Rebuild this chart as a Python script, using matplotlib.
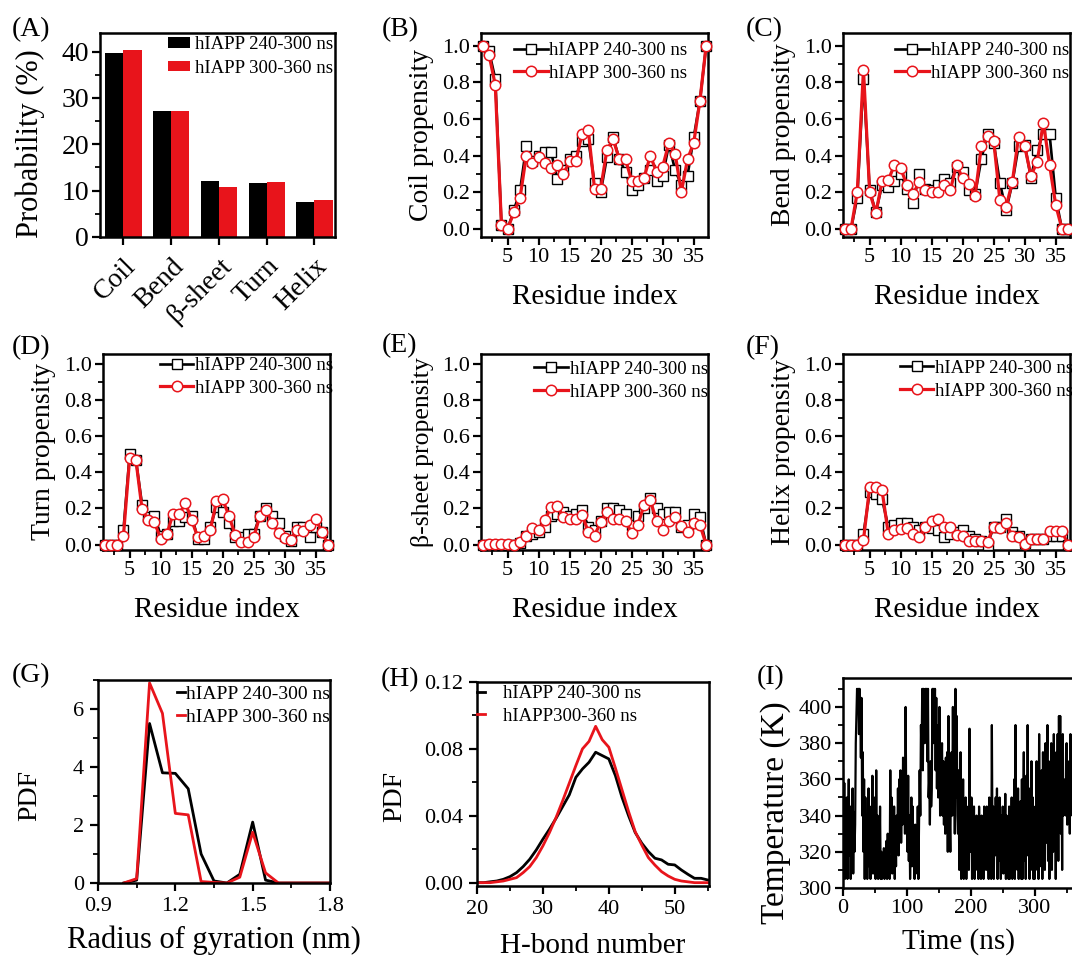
import numpy as np
import matplotlib
matplotlib.use('Agg')
import matplotlib.pyplot as plt
from matplotlib.ticker import MultipleLocator, FormatStrFormatter

plt.rcParams['font.family'] = ['Liberation Serif', 'DejaVu Serif']

BLACK = 'black'
RED = '#E8141B'
LAB1 = 'hIAPP 240-300 ns'
LAB2 = 'hIAPP 300-360 ns'

# ---- (A) secondary structure probability ----
ss_names = ['Coil', 'Bend', 'β-sheet', 'Turn', 'Helix']
ss_240 = [39.7, 27.2, 12.1, 11.6, 7.6]
ss_300 = [40.3, 27.1, 10.8, 11.9, 7.9]

# ---- (B)-(F) per-residue propensities ----
residues = np.arange(1, 38)
coil_240 = [1.0, 0.97, 0.82, 0.02, 0.0, 0.10, 0.21, 0.45, 0.37, 0.40, 0.42, 0.42, 0.27, 0.32, 0.38,
            0.40, 0.48, 0.49, 0.25, 0.20, 0.39, 0.50, 0.38, 0.31, 0.21, 0.24, 0.28, 0.32, 0.26, 0.29,
            0.46, 0.32, 0.24, 0.29, 0.50, 0.70, 1.0]
coil_300 = [1.0, 0.95, 0.786, 0.02, 0.0, 0.09, 0.17, 0.40, 0.36, 0.39, 0.36, 0.33, 0.35, 0.30, 0.37,
            0.37, 0.52, 0.54, 0.22, 0.22, 0.43, 0.49, 0.38, 0.38, 0.26, 0.26, 0.28, 0.40, 0.31, 0.34,
            0.47, 0.41, 0.20, 0.38, 0.47, 0.70, 1.0]
bend_240 = [0.0, 0.0, 0.17, 0.82, 0.21, 0.09, 0.24, 0.23, 0.26, 0.30, 0.22, 0.14, 0.30, 0.22, 0.21,
            0.24, 0.27, 0.25, 0.34, 0.31, 0.21, 0.19, 0.38, 0.52, 0.47, 0.25, 0.10, 0.25, 0.45, 0.46,
            0.28, 0.43, 0.52, 0.52, 0.17, 0.0, 0.0]
bend_300 = [0.0, 0.0, 0.20, 0.87, 0.20, 0.086, 0.26, 0.265, 0.35, 0.33, 0.24, 0.19, 0.255, 0.21, 0.20,
            0.20, 0.24, 0.21, 0.35, 0.275, 0.245, 0.18, 0.45, 0.505, 0.48, 0.155, 0.12, 0.255, 0.50, 0.45,
            0.29, 0.365, 0.58, 0.35, 0.13, 0.0, 0.0]
turn_240 = [0.0, 0.0, 0.0, 0.08, 0.50, 0.47, 0.22, 0.15, 0.16, 0.05, 0.06, 0.13, 0.13, 0.15, 0.16,
            0.03, 0.03, 0.10, 0.21, 0.18, 0.12, 0.04, 0.04, 0.06, 0.06, 0.16, 0.20, 0.16, 0.12, 0.05,
            0.02, 0.10, 0.10, 0.04, 0.10, 0.07, 0.0]
turn_300 = [0.0, 0.0, 0.0, 0.05, 0.48, 0.47, 0.196, 0.134, 0.123, 0.033, 0.06, 0.17, 0.17, 0.23, 0.134,
            0.04, 0.05, 0.08, 0.24, 0.25, 0.16, 0.055, 0.015, 0.015, 0.04, 0.16, 0.19, 0.12, 0.064, 0.037,
            0.024, 0.08, 0.073, 0.11, 0.14, 0.07, 0.0]
sheet_240 = [0.0, 0.0, 0.0, 0.0, 0.0, 0.0, 0.01, 0.05, 0.06, 0.07, 0.10, 0.16, 0.17, 0.18, 0.16,
             0.17, 0.19, 0.10, 0.08, 0.13, 0.20, 0.20, 0.19, 0.17, 0.11, 0.16, 0.20, 0.26, 0.20, 0.17,
             0.18, 0.18, 0.10, 0.11, 0.17, 0.15, 0.0]
sheet_300 = [0.0, 0.005, 0.005, 0.005, 0.005, 0.0, 0.015, 0.045, 0.09, 0.08, 0.135, 0.21, 0.215, 0.15, 0.14,
             0.14, 0.165, 0.07, 0.05, 0.125, 0.18, 0.14, 0.14, 0.13, 0.065, 0.11, 0.22, 0.245, 0.13, 0.08,
             0.13, 0.155, 0.105, 0.07, 0.12, 0.11, 0.0]
helix_240 = [0.0, 0.0, 0.0, 0.06, 0.29, 0.28, 0.25, 0.10, 0.11, 0.12, 0.12, 0.10, 0.08, 0.10, 0.09,
             0.08, 0.04, 0.06, 0.07, 0.08, 0.05, 0.03, 0.02, 0.0, 0.10, 0.10, 0.14, 0.07, 0.05, 0.01,
             0.03, 0.03, 0.03, 0.05, 0.05, 0.05, 0.0]
helix_300 = [0.0, 0.0, 0.0, 0.025, 0.32, 0.32, 0.30, 0.06, 0.08, 0.085, 0.09, 0.06, 0.04, 0.10, 0.13,
             0.14, 0.10, 0.10, 0.055, 0.05, 0.02, 0.02, 0.02, 0.015, 0.10, 0.09, 0.12, 0.045, 0.04, 0.005,
             0.03, 0.03, 0.03, 0.075, 0.075, 0.075, 0.0]

# ---- (G) radius of gyration PDF ----
rg_nm = [1.0, 1.05, 1.1, 1.15, 1.2, 1.25, 1.3, 1.35, 1.4, 1.45, 1.5, 1.55, 1.6, 1.65, 1.7, 1.75, 1.8]
rg_240 = [0.0, 0.1, 5.5, 3.8, 3.78, 3.25, 1.0, 0.07, 0.0, 0.3, 2.1, 0.1, 0.0, 0.0, 0.0, 0.0, 0.0]
rg_300 = [0.0, 0.15, 6.9, 5.85, 2.4, 2.35, 0.05, 0.02, 0.0, 0.2, 1.75, 0.35, 0.0, 0.0, 0.0, 0.0, 0.0]

# ---- (H) H-bond number PDF ----
hb_num = np.arange(20, 56)
hb_240 = [0.0, 0.0, 0.0005, 0.001, 0.002, 0.0036, 0.006, 0.0096, 0.014, 0.0196, 0.026, 0.032, 0.0385,
          0.0455, 0.0525, 0.063, 0.068, 0.072, 0.078, 0.076, 0.074, 0.064, 0.051, 0.040, 0.030, 0.0236,
          0.0186, 0.0146, 0.0136, 0.011, 0.0106, 0.0076, 0.005, 0.0026, 0.0026, 0.0016]
hb_300 = [0.0, 0.0, 0.0, 0.0005, 0.001, 0.002, 0.003, 0.006, 0.0096, 0.015, 0.022, 0.030, 0.039,
          0.049, 0.0595, 0.070, 0.080, 0.0845, 0.0935, 0.0855, 0.081, 0.0685, 0.0555, 0.0425, 0.0305, 0.0225,
          0.015, 0.0105, 0.0066, 0.004, 0.002, 0.001, 0.0005, 0.0, 0.0, 0.0]

# ---- (I) replica temperature walk, 1 ns sampling ----
time_ns = np.arange(0, 361)
temp_K = [365, 320, 358, 305, 340, 312, 350, 305, 330, 360, 318, 345, 305, 338, 312, 355, 308, 342, 320, 335,
          380, 395, 410, 402, 410, 385, 410, 398, 372, 405, 340, 375, 320, 360, 305, 350, 318, 340, 305, 330,
          355, 312, 345, 305, 338, 318, 362, 308, 335, 322, 350, 305, 365, 315, 340, 305, 325, 310, 345, 305,
          320, 305, 318, 308, 322, 305, 315, 310, 326, 305, 330, 310, 318, 305, 365, 320, 350, 308, 340, 315,
          345, 305, 335, 312, 340, 320, 355, 318, 360, 330, 365, 325, 350, 335, 372, 340, 360, 330, 400, 345,
          350, 320, 362, 315, 340, 305, 330, 350, 312, 345, 315, 325, 305, 335, 308, 330, 315, 345, 305, 335,
          365, 340, 390, 370, 410, 365, 410, 395, 380, 410, 395, 410, 370, 410, 350, 360, 335, 370, 345, 355,
          410, 380, 410, 395, 410, 365, 405, 355, 390, 350, 355, 400, 340, 375, 365, 380, 340, 370, 335, 365,
          330, 372, 345, 375, 320, 395, 350, 340, 320, 365, 375, 340, 400, 345, 395, 330, 410, 350, 395, 340,
          330, 365, 310, 345, 375, 305, 335, 320, 360, 305, 340, 318, 350, 305, 330, 312, 345, 310, 388, 325,
          320, 350, 305, 335, 315, 345, 305, 330, 320, 340, 310, 332, 305, 345, 318, 330, 305, 340, 312, 335,
          305, 345, 315, 335, 310, 345, 320, 330, 305, 350, 312, 340, 305, 390, 322, 345, 305, 335, 318, 350,
          320, 355, 305, 340, 315, 350, 325, 305, 340, 315, 345, 308, 335, 318, 352, 305, 340, 312, 330, 305,
          345, 305, 335, 320, 350, 305, 338, 315, 360, 305, 390, 320, 345, 310, 355, 305, 340, 318, 348, 305,
          360, 305, 340, 375, 315, 350, 305, 362, 318, 390, 330, 355, 305, 345, 320, 370, 310, 350, 305, 340,
          305, 345, 320, 370, 310, 360, 305, 385, 325, 350, 312, 365, 305, 375, 330, 350, 310, 380, 325, 360,
          390, 315, 370, 305, 345, 330, 380, 310, 365, 320, 385, 340, 360, 305, 375, 330, 385, 315, 395, 340,
          395, 330, 375, 310, 385, 340, 360, 350, 345, 340, 380, 335, 370, 345, 360, 330, 385, 345, 365, 340,
          345]

W, H = 1072, 957
fig = plt.figure(figsize=(W / 100, H / 100), dpi=100)
fig.patch.set_facecolor('white')


def px_axes(left, top, right, bottom):
    return fig.add_axes([left / W, 1 - bottom / H, (right - left) / W, (bottom - top) / H])


def style(ax, tick_fs=16, pad=2):
    for s in ax.spines.values():
        s.set_linewidth(1.8)
    ax.tick_params(which='major', direction='out', length=6, width=1.6, labelsize=tick_fs, pad=pad)
    ax.tick_params(which='minor', direction='out', length=3.5, width=1.3)


def panel_label(x, y, txt):
    fig.text(x / W, 1 - y / H, txt, fontsize=20, ha='left', va='center')


# (A)
ax = px_axes(100, 33, 335, 237)
xs = np.arange(len(ss_names))
bw = 0.38
ax.bar(xs - bw / 2, ss_240, bw, color=BLACK, label=LAB1)
ax.bar(xs + bw / 2, ss_300, bw, color=RED, label=LAB2)
ax.set_xlim(-0.49, 4.43)
ax.set_ylim(0, 44)
ax.set_xticks(xs)
ax.set_xticklabels(ss_names, rotation=45, ha='right', rotation_mode='anchor', fontsize=22)
ax.yaxis.set_major_locator(MultipleLocator(10))
ax.yaxis.set_minor_locator(MultipleLocator(5))
style(ax, 20)
ax.tick_params(axis='x', pad=6)
ax.set_ylabel('Probability (%)', fontsize=22)
ax.yaxis.set_label_coords(-0.235, 0.46)
ax.legend(loc='upper right', bbox_to_anchor=(0.99, 0.985), frameon=False, fontsize=13.5,
          handlelength=1.15, handleheight=0.5, handletextpad=0.25, borderpad=0, borderaxespad=0,
          labelspacing=0.35)
panel_label(12, 30, '(A)')

# (B)-(F)
prop_panels = [
    ((481, 33, 708, 237), coil_240, coil_300, 'Coil propensity', '(B)', (382, 30), (0.91, 0.955), (-0.045, 1.07), 20),
    ((843, 33, 1070, 237), bend_240, bend_300, 'Bend propensity', '(C)', (746, 30), (0.995, 0.955), (-0.045, 1.07), 20),
    ((103, 354, 330, 550), turn_240, turn_300, 'Turn propensity', '(D)', (12, 348), (1.015, 0.985), (-0.03, 1.055), 20),
    ((481, 354, 708, 550), sheet_240, sheet_300, 'β-sheet propensity', '(E)', (382, 346), (1.0, 0.965), (-0.03, 1.055), 18.5),
    ((843, 354, 1070, 550), helix_240, helix_300, 'Helix propensity', '(F)', (746, 348), (1.015, 0.97), (-0.03, 1.055), 20),
]
for box, y1, y2, ylab, lab, lpos, leg_anchor, ylim, yfs in prop_panels:
    ax = px_axes(*box)
    ax.plot(residues, y1, '-s', color=BLACK, lw=1.9, ms=6.5, mfc='white', mec=BLACK, mew=1.0,
            label=LAB1, clip_on=False, zorder=3)
    ax.plot(residues, y2, '-o', color=RED, lw=2.3, ms=7.5, mfc='white', mec=RED, mew=1.1,
            label=LAB2, clip_on=False, zorder=4)
    ax.set_xlim(0.7, 37.3)
    ax.set_ylim(*ylim)
    ax.xaxis.set_major_locator(MultipleLocator(5))
    ax.xaxis.set_minor_locator(MultipleLocator(2.5))
    ax.yaxis.set_major_locator(MultipleLocator(0.2))
    ax.yaxis.set_minor_locator(MultipleLocator(0.1))
    ax.yaxis.set_major_formatter(FormatStrFormatter('%.1f'))
    style(ax, 16)
    ax.set_xlabel('Residue index', fontsize=21, labelpad=12)
    ax.set_ylabel(ylab, fontsize=yfs, labelpad=6)
    ax.legend(loc='upper right', bbox_to_anchor=leg_anchor, frameon=False, fontsize=13.5,
              handlelength=1.8, handletextpad=0.1, borderpad=0, borderaxespad=0, labelspacing=0.3)
    panel_label(lpos[0], lpos[1], lab)

# (G)
ax = px_axes(98, 680, 330, 883)
ax.plot(rg_nm, rg_240, color=BLACK, lw=2.0, label=LAB1)
ax.plot(rg_nm, rg_300, color=RED, lw=2.0, label=LAB2)
ax.set_xlim(0.9, 1.8)
ax.set_ylim(0, 7.0)
ax.xaxis.set_major_locator(MultipleLocator(0.3))
ax.xaxis.set_minor_locator(MultipleLocator(0.15))
ax.yaxis.set_major_locator(MultipleLocator(2))
ax.yaxis.set_minor_locator(MultipleLocator(1))
ax.xaxis.set_major_formatter(FormatStrFormatter('%.1f'))
style(ax, 16, pad=4)
ax.set_xlabel('Radius of gyration (nm)', fontsize=22, labelpad=7)
ax.set_ylabel('PDF', fontsize=20)
ax.yaxis.set_label_coords(-0.24, 0.43)
ax.legend(loc='upper right', bbox_to_anchor=(1.0, 0.975), frameon=False, fontsize=14,
          handlelength=0.4, handletextpad=0.05, borderpad=0, borderaxespad=0, labelspacing=0.3)
panel_label(12, 676, '(G)')

# (H)
ax = px_axes(477, 682, 709, 886)
ax.plot(hb_num, hb_240, color=BLACK, lw=2.0, label='hIAPP 240-300 ns')
ax.plot(hb_num, hb_300, color=RED, lw=2.0, label='hIAPP300-360 ns')
ax.set_xlim(20, 55.2)
ax.set_ylim(-0.002, 0.12)
ax.xaxis.set_major_locator(MultipleLocator(10))
ax.xaxis.set_minor_locator(MultipleLocator(5))
ax.yaxis.set_major_locator(MultipleLocator(0.04))
ax.yaxis.set_minor_locator(MultipleLocator(0.02))
ax.yaxis.set_major_formatter(FormatStrFormatter('%.2f'))
style(ax, 16, pad=4)
ax.set_xlabel('H-bond number', fontsize=21, labelpad=10)
ax.set_ylabel('PDF', fontsize=20)
ax.yaxis.set_label_coords(-0.30, 0.44)
ax.legend(loc='upper left', bbox_to_anchor=(0.0, 0.985), frameon=False, fontsize=13.5,
          handlelength=0.4, handletextpad=1.0, borderpad=0, borderaxespad=0, labelspacing=0.3)
panel_label(381, 680, '(H)')

# (I)
ax = px_axes(843, 678, 1073, 888)
ax.plot(time_ns, temp_K, color=BLACK, lw=1.6)
ax.set_xlim(0, 360)
ax.set_ylim(300, 416)
ax.xaxis.set_major_locator(MultipleLocator(100))
ax.xaxis.set_minor_locator(MultipleLocator(50))
ax.yaxis.set_major_locator(MultipleLocator(20))
ax.yaxis.set_minor_locator(MultipleLocator(10))
style(ax, 16)
ax.set_xlabel('Time (ns)', fontsize=21, labelpad=7)
ax.set_ylabel('Temperature (K)', fontsize=24)
ax.yaxis.set_label_coords(-0.225, 0.36)
panel_label(757, 678, '(I)')

fig.savefig('out.png', dpi=100, facecolor='white')
